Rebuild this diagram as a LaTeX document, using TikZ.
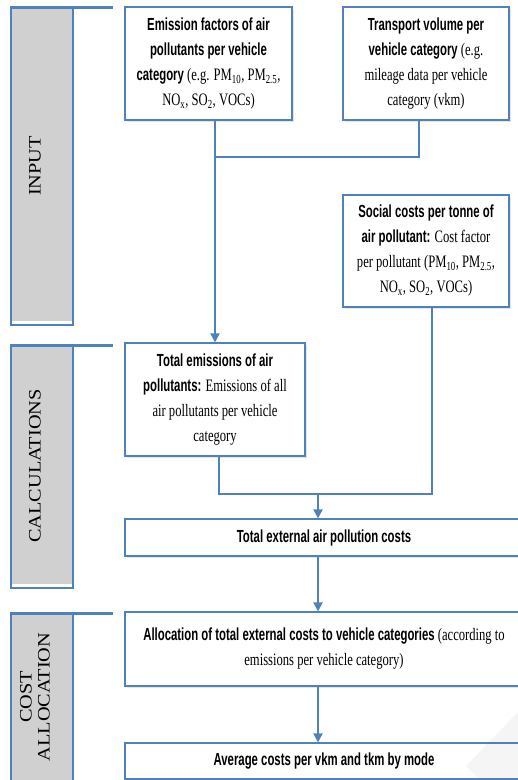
\documentclass[tikz,border=0pt]{standalone}
\usepackage{fontspec}
\setmainfont{Liberation Serif}
\newfontfamily\headsans[FakeStretch=0.65]{Liberation Sans}
\newfontfamily\bodyserif[FakeStretch=0.72]{Liberation Serif}
\newfontfamily\sideserif[FakeStretch=1.16]{Liberation Serif}
\usetikzlibrary{arrows.meta,shadows}
\definecolor{lineblue}{RGB}{79,129,189}
\definecolor{panelgray}{RGB}{208,208,208}
\newcommand{\hdtxt}[1]{{\headsans\bfseries #1}}
\tikzset{
  box/.style={draw=lineblue,line width=1.2pt,fill=white,align=center,inner sep=0pt,
    drop shadow={opacity=0.2,shadow xshift=1.5pt,shadow yshift=-1.5pt},
    font=\fontsize{17.5}{25}\selectfont\bodyserif},
  conn/.style={draw=lineblue,line width=2pt},
  sidelabel/.style={rotate=90,align=center,font=\fontsize{17.5}{18}\selectfont\sideserif},
}
\begin{document}
\begin{tikzpicture}[>={Triangle[length=9pt,width=9pt]},x=1pt,y=-1pt]
  \useasboundingbox (0,0) rectangle (518,780);
  \clip (0,0) rectangle (518,780);
  % side panels
  \foreach \top/\bot/\mid/\lab [count=\i] in {7/325/166/INPUT,345/588/466/CALCULATIONS,613/790/697/{COST\\ALLOCATION}}{
    \fill[panelgray] (11,\top) rectangle (73,\bot);
    \fill[white] (11,\bot-4) rectangle (73,\bot);
    \draw[lineblue,line width=1.2pt] (11,\top) -- (11,\bot) -- (73,\bot) -- (73,\top);
    \draw[lineblue,line width=3pt] (10,\top) -- (113,\top);
    \node[sidelabel] (side\i) at (35,\mid) {\lab};
  }
  % boxes
  \node[box,minimum width=167pt,minimum height=113pt] (emis) at (208.5,63.5)
    {\hdtxt{Emission factors of air}\\\hdtxt{pollutants per vehicle}\\
     \hdtxt{category} (e.g. PM\textsubscript{10}, PM\textsubscript{2.5},\\
     NO\textsubscript{x}, SO\textsubscript{2}, VOCs)};
  \node[box,minimum width=166pt,minimum height=113pt] (volume) at (426,63.5)
    {\hdtxt{Transport volume per}\\\hdtxt{vehicle category} (e.g.\\
     mileage data per vehicle\\category (vkm)};
  \node[box,minimum width=166pt,minimum height=112pt] (social) at (426,251)
    {\hdtxt{Social costs per tonne of}\\\hdtxt{air pollutant:} Cost factor\\
     per pollutant (PM\textsubscript{10}, PM\textsubscript{2.5},\\
     NO\textsubscript{x}, SO\textsubscript{2}, VOCs)};
  \node[box,minimum width=180pt,minimum height=113pt] (totemis) at (215,399.5)
    {\hdtxt{Total emissions of air}\\\hdtxt{pollutants:} Emissions of all\\
     air pollutants per vehicle\\category};
  \node[box,minimum width=398pt,minimum height=37pt] (total) at (324,537.5)
    {\hdtxt{Total external air pollution costs}};
  \node[box,minimum width=398pt,minimum height=74pt] (alloc) at (324,649)
    {\hdtxt{Allocation of total external costs to vehicle categories} (according to\\
     emissions per vehicle category)};
  \node[box,minimum width=398pt,minimum height=36pt] (avg) at (324,761)
    {\hdtxt{Average costs per vkm and tkm by mode}};
  % connectors
  \coordinate (join) at (215,157);
  \coordinate (merge) at (318,494);
  \draw[conn,->] ([xshift=6.5pt]emis.south) -- (totemis.north);
  \draw[conn] ([xshift=-7pt]volume.south) |- (join);
  \draw[conn] ([xshift=4pt]totemis.south) |- (merge) -| ([xshift=6pt]social.south);
  \draw[conn,->] (merge) -- (merge |- total.north);
  \draw[conn,->] (total.south -| merge) -- (alloc.north -| merge);
  \draw[conn,->] (alloc.south -| merge) -- (avg.north -| merge);
  % faint mark in the corner
  \fill[gray,opacity=0.08] (518,712) -- (466,766) -- (480,780) -- (518,780) -- cycle;
\end{tikzpicture}
\end{document}
